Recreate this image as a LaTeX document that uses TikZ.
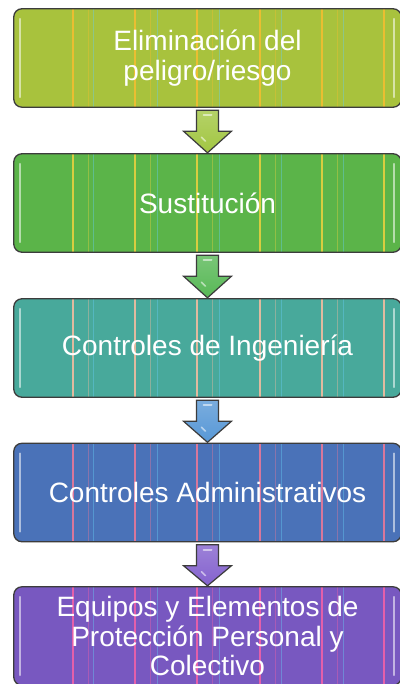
\documentclass[tikz,border=0pt]{standalone}
\usepackage{fontspec}
\setmainfont{Liberation Sans}
\usetikzlibrary{calc}
\definecolor{cA}{HTML}{A8C23D}
\definecolor{cB}{HTML}{5BB449}
\definecolor{cC}{HTML}{48A99B}
\definecolor{cD}{HTML}{4A72B8}
\definecolor{cE}{HTML}{7858C0}
\definecolor{aA}{HTML}{A2C642}
\definecolor{aB}{HTML}{58B856}
\definecolor{aC}{HTML}{5898D6}
\definecolor{aD}{HTML}{8462CE}
\definecolor{sA}{HTML}{F2BE30}
\definecolor{sB}{HTML}{E6D040}
\definecolor{sC}{HTML}{F2BCA0}
\definecolor{sD}{HTML}{E87898}
\definecolor{sE}{HTML}{F060A8}
\definecolor{edge}{HTML}{3C3C3C}
\tikzset{
  box/.style={rectangle, rounded corners=8pt, minimum width=387pt, minimum height=98pt, inner sep=0pt, fill=#1},
  boxedge/.style={rounded corners=8pt, draw=edge, line width=1.3pt},
  boxtext/.style={text=white, align=center, font=\fontsize{28}{29.5}\selectfont},
  stripe/.style={draw=#1, line width=1.2pt, opacity=0.9},
  faint/.style={draw=#1, line width=0.8pt, opacity=0.4},
  gloss/.style={draw=white, line width=1.6pt, opacity=0.55, line cap=round},
  blockarrow/.style={draw=edge, line width=1.2pt, line join=miter, top color=#1!80!white, bottom color=#1}
}
\newcommand{\mybox}[5]{%
  % #1 name, #2 y, #3 fill, #4 stripe colour, #5 text
  \node[box=#3] (#1) at (207.5,#2) {};
  \begin{scope}
    \clip[rounded corners=8pt] (#1.south west) rectangle (#1.north east);
    \foreach \sx in {73,135,197,260,322,384} {\draw[stripe=#4] (\sx,0) -- (\sx,684);}
    \foreach \sx in {88,150,212,275,337} {\draw[faint=#4] (\sx,0) -- (\sx,684);}
    \foreach \sx in {93,157,219,281,343} {\draw[faint=cyan!60!white] (\sx,0) -- (\sx,684);}
  \end{scope}
  \draw[gloss] ($(#1.north west)+(6,10)$) -- ($(#1.south west)+(6,-10)$);
  \draw[gloss] ($(#1.north east)+(-7,10)$) -- ($(#1.south east)+(-7,-10)$);
  \draw[boxedge] (#1.south west) rectangle (#1.north east);
  \node[boxtext] at (#1.center) {#5};
}
\newcommand{\myarrow}[3]{%
  % #1 upper box, #2 lower box, #3 colour
  \path[blockarrow=#3]
    ($(#1.south)+(-11,3)$) -- ($(#1.south)+(11,3)$) -- ($(#1.south)+(11,24)$)
    -- ($(#1.south)+(24,24)$) -- ($(#2.north)+(0,-1)$) -- ($(#1.south)+(-24,24)$)
    -- ($(#1.south)+(-11,24)$) -- cycle;
  \draw[gloss, line width=2pt] ($(#1.south)+(-4,8)$) -- ($(#1.south)+(4,8)$);
  \draw[gloss, line width=1.5pt] ($(#1.south)+(-6,30)$) -- ($(#1.south)+(-2,34)$);
}
\begin{document}
\begin{tikzpicture}[x=1pt,y=-1pt]
\useasboundingbox (0,0) rectangle (399,684);
\fill[white] (0,0) rectangle (399,684);
\mybox{b1}{58}{cA}{sA}{Eliminación del\\peligro/riesgo}
\mybox{b2}{203}{cB}{sB}{Sustitución}
\mybox{b3}{348}{cC}{sC}{Controles de Ingeniería}
\mybox{b4}{492.5}{cD}{sD}{Controles Administrativos}
\mybox{b5}{636}{cE}{sE}{Equipos y Elementos de\\Protección Personal y\\Colectivo}
\myarrow{b1}{b2}{aA}
\myarrow{b2}{b3}{aB}
\myarrow{b3}{b4}{aC}
\myarrow{b4}{b5}{aD}
\end{tikzpicture}
\end{document}
